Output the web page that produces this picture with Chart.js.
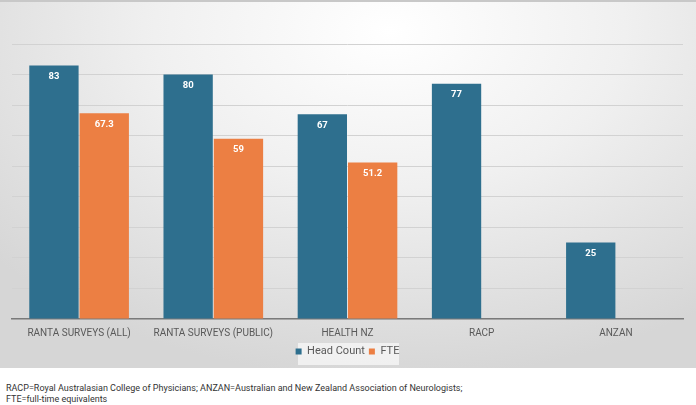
<!DOCTYPE html>
<html>
<head>
<meta charset="utf-8">
<script src="https://cdn.jsdelivr.net/npm/chart.js@4"></script>
<style>
  body { margin: 0; background: #fff; width: 696px; height: 405px; overflow: hidden; }
  #wrap {
    position: relative; width: 696px; height: 368px;
    background: radial-gradient(ellipse 75% 95% at 56% 8%, #ffffff 0%, #f0f0f0 45%, #d6d6d6 100%);
    border-top: 2px solid #c8c8c8; box-sizing: border-box;
  }
  .note { font-family: 'Liberation Sans Narrow', 'Roboto', sans-serif; font-size: 9px; color: #333; position: absolute; left: 6px; }
</style>
</head>
<body>
<div id="wrap"><canvas id="chart"></canvas></div>
<div class="note" style="top:383px">RACP=Royal Australasian College of Physicians; ANZAN=Australian and New Zealand Association of Neurologists;</div>
<div class="note" style="top:394px">FTE=full-time equivalents</div>
<script>
// данные с картинки
var categories = ['RANTA SURVEYS (ALL)', 'RANTA SURVEYS (PUBLIC)', 'HEALTH NZ', 'RACP', 'ANZAN'];
var headCount = [83, 80, 67, 77, 25];
var fte = [67.3, 59, 51.2, null, null];
var yTicks = [0, 10, 20, 30, 40, 50, 60, 70, 80, 90];

var labelFont = "'Liberation Sans Narrow', 'Roboto', sans-serif";

// подписи значений внутри столбцов
var valueLabels = {
    id: 'valueLabels',
    afterDatasetsDraw: function(chart) {
        var ctx = chart.ctx;
        ctx.save();
        ctx.fillStyle = '#ffffff';
        ctx.font = 'bold 9.5px ' + labelFont;
        ctx.textAlign = 'center';
        ctx.textBaseline = 'middle';
        chart.data.datasets.forEach(function(ds, i) {
            chart.getDatasetMeta(i).data.forEach(function(bar, j) {
                var v = ds.data[j];
                if (v === null || v === undefined) return;
                ctx.fillText(String(v), bar.x, bar.y + 11);
            });
        });
        ctx.restore();
    }
};

// светлая плашка под легендой
var legendBox = {
    id: 'legendBox',
    beforeDraw: function(chart) {
        var ctx = chart.ctx;
        ctx.save();
        ctx.fillStyle = 'rgba(245,245,245,0.85)';
        ctx.fillRect(298, 341, 101, 22);
        ctx.restore();
    }
};

var ctx = document.getElementById('chart').getContext('2d');
var myChart = new Chart(ctx, {
    type: 'bar',
    data: {
        labels: categories,
        datasets: [
            {
                label: 'Head Count',
                data: headCount,
                backgroundColor: '#2e6f8e',
                categoryPercentage: 0.75,
                barPercentage: 0.98
            },
            {
                label: 'FTE',
                data: fte,
                backgroundColor: '#ec7f43',
                categoryPercentage: 0.75,
                barPercentage: 0.98
            }
        ]
    },
    options: {
        responsive: true,
        maintainAspectRatio: false,
        animation: false,
        layout: { padding: { top: 42, left: 12, right: 13, bottom: 1 } },
        plugins: {
            tooltip: { enabled: false },
            legend: {
                display: true,
                position: 'bottom',
                labels: {
                    boxWidth: 6,
                    boxHeight: 6,
                    padding: 4,
                    color: '#595959',
                    font: { family: labelFont, size: 11 }
                }
            }
        },
        scales: {
            x: {
                grid: { display: false, drawTicks: false, tickLength: 0 },
                border: { color: '#7a7a7a', width: 1.5 },
                afterFit: function(axis) { axis.height = 23; },
                ticks: {
                    color: '#595959',
                    padding: 9,
                    maxRotation: 0,
                    font: { family: labelFont, size: 10, lineHeight: 1 }
                }
            },
            y: {
                min: 0,
                max: 90,
                afterBuildTicks: function(axis) {
                    axis.ticks = yTicks.map(function(v) { return { value: v }; });
                },
                afterFit: function(axis) { axis.width = 0; },
                border: { display: false },
                grid: { color: '#d2d2d2', lineWidth: 1, drawTicks: false },
                ticks: { display: false }
            }
        }
    },
    plugins: [valueLabels, legendBox]
});
</script>
</body>
</html>
